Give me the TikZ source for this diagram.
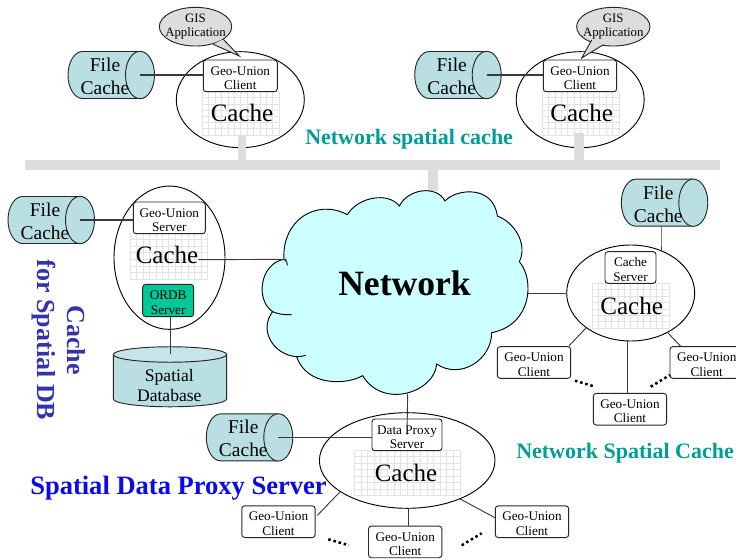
\documentclass[tikz,border=0pt]{standalone}
\usepackage{fontspec}
\setmainfont{Liberation Serif}
\usetikzlibrary{shapes.geometric}
\definecolor{cylfill}{HTML}{B9DFE3}
\definecolor{cyltop}{HTML}{C6E5E8}
\definecolor{barcol}{HTML}{DDDDDD}
\definecolor{gridcol}{HTML}{E2E2E2}
\definecolor{ordbcol}{HTML}{00C896}
\definecolor{cloudcol}{HTML}{CCFFFF}
\definecolor{tealtitle}{HTML}{009E96}
\definecolor{bluetitle}{HTML}{0A0AEE}
\definecolor{purpletitle}{HTML}{3333AA}
\definecolor{linecol}{HTML}{3A3A3A}
\newcommand{\boxstrut}{\rule{0pt}{9.7pt}}
\tikzset{
  outl/.style={draw=black,line width=0.7pt},
  cacheell/.style={ellipse,outl,fill=white,inner sep=0pt},
  ubox/.style={rectangle,rounded corners=2.2pt,draw=black!85,line width=0.7pt,fill=white,
    inner sep=0pt,align=center,font=\fontsize{9.9}{10.7}\selectfont},
  capell/.style={ellipse,draw=black!85,line width=0.7pt,fill=cylfill,inner sep=0pt,
    minimum width=21.75pt,minimum height=35.5pt},
  filetext/.style={inner sep=0pt,align=center,font=\fontsize{14.6}{17.4}\selectfont},
  cachetext/.style={inner sep=0pt,font=\fontsize{18.75}{20}\selectfont},
  gridline/.style={draw=gridcol,line width=0.6pt},
  conn/.style={draw=linecol,line width=0.7pt},
  fileconn/.style={draw=linecol,line width=0.9pt},
  dotline/.style={draw=black,line width=1.9pt,dash pattern=on 1.9pt off 2.1pt},
  gisell/.style={ellipse,draw=black!85,line width=0.7pt,fill=barcol,inner sep=-14pt,align=center,
    font=\fontsize{9.6}{10.9}\selectfont},
  title/.style={inner sep=0pt,anchor=base west,font=\bfseries\fontsize{16.5}{20}\selectfont,text=tealtitle},
}
% file cache cylinder: name, cap centre x, cap centre y
\newcommand{\filecache}[3]{%
  \filldraw[fill=cylfill,draw=black!85,line width=0.7pt]
    (#2,#3-23.5) -- (#2-57.5,#3-23.5)
    .. controls (#2-65.5,#3-23.5) and (#2-72,#3-13) .. (#2-72,#3)
    .. controls (#2-72,#3+13) and (#2-65.5,#3+23.5) .. (#2-57.5,#3+23.5)
    -- (#2,#3+23.5);
  \node[capell] (#1) at (#2,#3) {};
  \node[filetext] (#1t) at (#2-35,#3+1.3) {File\\Cache};
}
% cache grid: x1,y1,x2,y2, columns, rows
\newcommand{\cachegrid}[6]{%
  \foreach \i in {0,...,#5}{\draw[gridline] ({#1+(#3-#1)*\i/#5},#2) -- ({#1+(#3-#1)*\i/#5},#4);}
  \foreach \j in {0,...,#6}{\draw[gridline] (#1,{#2+(#4-#2)*\j/#6}) -- (#3,{#2+(#4-#2)*\j/#6});}
}
\newcommand{\uboxn}[6]{%
  \node[ubox,minimum width=#4*0.75pt,minimum height=#5*0.75pt] (#1) at (#2,#3) {\boxstrut #6};
}
\begin{document}
\begin{tikzpicture}[x=0.75pt,y=-0.75pt]
\useasboundingbox (0,0) rectangle (736,559);
\fill[white] (0,0) rectangle (736,559);

% ---- cache ellipses
\node[cacheell,minimum width=96pt,minimum height=72pt] (e1) at (240.3,99.7) {};
\node[cacheell,minimum width=96pt,minimum height=72pt] (e2) at (580.2,99.7) {};
\node[cacheell,minimum width=83.25pt,minimum height=107.5pt] (e3) at (169.5,257.7) {};
\node[cacheell,minimum width=131.7pt,minimum height=71.7pt] (e4) at (407.2,460.5) {};
\node[cacheell,minimum width=96pt,minimum height=72pt] (e5) at (630.7,293) {};

% ---- grids and Cache labels
\cachegrid{202.3}{91.7}{279.3}{135}{12}{7}
\cachegrid{542.3}{91.7}{619}{135}{12}{7}
\cachegrid{130}{233.3}{207.7}{279}{12}{7}
\cachegrid{354.3}{450}{460}{495.7}{16}{7}
\cachegrid{592.3}{283.3}{669.3}{328.3}{12}{7}
\node[cachetext] (c1t) at (242,112.7) {Cache};
\node[cachetext] (c2t) at (581.7,112.7) {Cache};
\node[cachetext] (c3t) at (167,255) {Cache};
\node[cachetext] (c4t) at (406,472.8) {Cache};
\node[cachetext] (c5t) at (631.7,306) {Cache};

% ---- backbone
\fill[barcol] (25,160) rectangle (720,170);
\fill[barcol] (238.3,135) rectangle (246,160);
\fill[barcol] (574.3,133.5) rectangle (584,160);
\fill[barcol] (428.3,170) rectangle (438,191);

% ---- GIS callouts
\node[gisell,minimum width=54.3pt,minimum height=29pt] (gis1) at (195.5,26.7) {GIS\\Application};
\fill[barcol] (213.3,44.3) -- (239.3,56) -- (223.3,39.3) -- cycle;
\draw[draw=black!85,line width=0.7pt] (213.3,44.3) -- (239.3,56) -- (223.3,39.3);
\node[gisell,minimum width=55pt,minimum height=29pt] (gis2) at (613.3,26.7) {GIS\\Application};
\fill[barcol] (591.7,40) -- (581.7,58) -- (603.3,44.7) -- cycle;
\draw[draw=black!85,line width=0.7pt] (591.7,40) -- (581.7,58) -- (603.3,44.7);

% ---- file caches
\filecache{fa}{140}{75}
\filecache{fb}{486.7}{75}
\filecache{fc}{80}{220}
\filecache{fd}{278.3}{437.4}
\filecache{fe}{693.3}{202.7}

% ---- boxes
\uboxn{b1}{240.3}{75.85}{74}{31.7}{Geo-Union\\Client}
\uboxn{b2}{580}{75.85}{73.4}{31.7}{Geo-Union\\Client}
\uboxn{b3}{169.3}{217.85}{72}{31.7}{Geo-Union\\Server}
\node[ubox,fill=ordbcol,minimum width=38.25pt,minimum height=24.3pt] (ordb) at (168.2,300.5) {\boxstrut ORDB\\Server};
\uboxn{b4}{407}{434.85}{70}{31.7}{Data Proxy\\Server}
\uboxn{cs}{630.5}{267.5}{51}{31.6}{Cache\\Server}
\uboxn{u1}{534}{362.5}{73.4}{31.7}{Geo-Union\\Client}
\uboxn{u2}{706.7}{362.5}{73.4}{31.7}{Geo-Union\\Client}
\uboxn{u3}{630}{409.2}{73.4}{31.7}{Geo-Union\\Client}
\uboxn{u4}{278.5}{521.7}{73.4}{31.7}{Geo-Union\\Client}
\uboxn{u5}{405.2}{541.9}{73.4}{31.7}{Geo-Union\\Client}
\uboxn{u6}{532}{521.7}{73.4}{31.7}{Geo-Union\\Client}

% ---- spatial database
\filldraw[fill=cylfill,draw=black!85,line width=0.7pt]
  (113.3,354.5) -- (113.3,399)
  .. controls (113.3,403.3) and (138.7,406.8) .. (170,406.8)
  .. controls (201.3,406.8) and (226.7,403.3) .. (226.7,399)
  -- (226.7,354.5);
\node[ellipse,draw=black!85,line width=0.7pt,fill=cyltop,inner sep=0pt,
  minimum width=85pt,minimum height=11.6pt] (dbtop) at (170,354.5) {};
\node[inner sep=0pt,align=center,font=\fontsize{13.2}{15.4}\selectfont] (db) at (169.3,385.3) {Spatial\\Database};

% ---- cloud
\begin{scope}[shift={(260,180)},x=0.25pt,y=-0.25pt]
\filldraw[fill=cloudcol,draw=black,line width=0.7pt]
  (262,104)
  .. controls (295,50) and (385,35) .. (418,78)
  .. controls (445,25) and (530,15) .. (555,63)
  .. controls (590,25) and (700,15) .. (712,108)
  .. controls (760,125) and (805,190) .. (778,245)
  .. controls (825,300) and (815,435) .. (695,458)
  .. controls (695,540) and (600,600) .. (530,552)
  .. controls (525,635) and (370,690) .. (308,587)
  .. controls (260,615) and (140,620) .. (110,530)
  .. controls (40,525) and (-5,450) .. (38,395)
  .. controls (-15,360) and (0,250) .. (72,238)
  .. controls (65,120) and (170,55) .. (262,104) -- cycle;
\draw[black,line width=0.7pt] (72,238) .. controls (80,240) and (82,248) .. (82,256);
\draw[black,line width=0.7pt] (38,395) .. controls (55,403) and (75,405) .. (95,404);
\draw[black,line width=0.7pt] (110,530) .. controls (120,530) and (130,529) .. (137,526);
\coordinate (cloudW) at (80,238);
\coordinate (cloudE) at (805,339);
\coordinate (cloudS) at (443,642);
\end{scope}
\node[inner sep=0pt,font=\bfseries\fontsize{26.7}{30}\selectfont] (net) at (404.5,283.3) {Network};

% ---- connectors
\draw[fileconn] (fa.center) -- (fa.center -| b1.west);
\draw[fileconn] (fb.center) -- (fb.center -| b2.west);
\draw[fileconn] (fc.center) -- (fc.center -| b3.west);
\draw[fileconn] (fd.center) -- (fd.center -| b4.west);
\coordinate (febot) at ([shift={(-32.3,23.5)}]fe.center);
\draw[conn] (febot) -- (febot |- e5.north) -- ++(0,5);
\draw[conn] (c3t.east) ++(0,4.7) -- (cloudW);
\draw[conn] (cloudE) -- (cloudE -| e5.west);
\draw[conn] (cloudS) -- (b4.center);
\draw[conn] (ordb.south -| dbtop.center) -- (dbtop.center);
\draw[conn] (e5.218) -- ([shift={(-2.4,0)}]u1.north east);
\coordinate (u3top) at ([shift={(-2.3,0)}]u3.north);
\draw[conn] (u3top) -- (u3top |- e5.south);
\draw[conn] (e5.313) -- ([shift={(11,0)}]u2.north west);
\draw[conn] (e4.205) -- ([shift={(1.7,10)}]u4.north east);
\coordinate (u5top) at ([shift={(3.5,0)}]u5.north);
\draw[conn] (u5top) -- (u5top |- e4.south);
\draw[conn] (e4.-36) -- ([shift={(0,12.3)}]u6.north west);

% ---- ellipsis dots
\coordinate (d1a) at (575,380.7); \coordinate (d1b) at (595,386.7);
\coordinate (d2a) at (650.7,386.7); \coordinate (d2b) at (670,375);
\coordinate (d3a) at (328.3,539.3); \coordinate (d3b) at (349,545.3);
\coordinate (d4a) at (461.7,545.3); \coordinate (d4b) at (481.7,533.3);
\draw[dotline] (d1a) -- (d1b);
\draw[dotline] (d2a) -- (d2b);
\draw[dotline] (d3a) -- (d3b);
\draw[dotline] (d4a) -- (d4b);

% ---- titles
\node[title] (t1) at (305,145) {Network spatial cache};
\node[title] (t2) at (516,458.3) {Network Spatial Cache};
\node[title,text=bluetitle,font=\bfseries\fontsize{19.9}{24}\selectfont] (t3) at (30,495) {Spatial Data Proxy Server};
\node[inner sep=0pt,rotate=-90,align=center,text=purpletitle,font=\bfseries\fontsize{19.5}{22.5}\selectfont] (t4) at (59,340) {Cache\\for Spatial DB};
\end{tikzpicture}
\end{document}
